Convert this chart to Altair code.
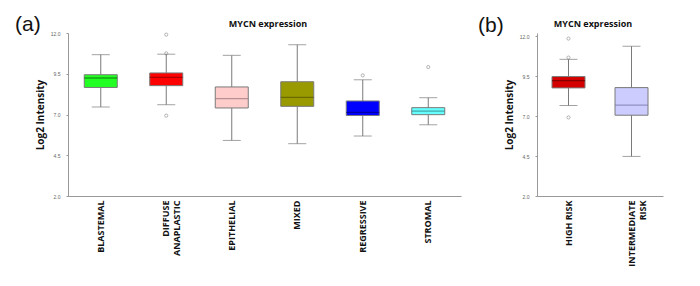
import altair as alt
import pandas as pd

# Panel (a): histology subtypes
cats_a = ["BLASTEMAL", "DIFFUSE|ANAPLASTIC", "EPITHELIAL", "MIXED", "REGRESSIVE", "STROMAL"]
low_a = [7.46, 7.60, 5.41, 5.21, 5.68, 6.37]
q1_a = [8.66, 8.77, 7.40, 7.50, 6.94, 6.99]
med_a = [9.24, 9.28, 7.97, 8.05, 7.13, 7.21]
q3_a = [9.44, 9.55, 8.69, 9.01, 7.83, 7.42]
high_a = [10.67, 10.70, 10.63, 11.28, 9.13, 8.03]
out_cat_a = ["DIFFUSE|ANAPLASTIC", "DIFFUSE|ANAPLASTIC", "DIFFUSE|ANAPLASTIC", "REGRESSIVE", "STROMAL"]
out_val_a = [11.90, 10.75, 6.93, 9.40, 9.91]
fill_a = ["#22ff22", "#ff0000", "#ffcccc", "#999900", "#0000ff", "#66ffff"]
medc_a = ["#117711", "#880000", "#997777", "#555500", "#000077", "#338888"]

# Panel (b): risk groups
cats_b = ["HIGH RISK", "INTERMEDIATE|RISK"]
low_b = [7.67, 4.48]
q1_b = [8.77, 7.06]
med_b = [9.23, 7.69]
q3_b = [9.48, 8.79]
high_b = [10.56, 11.38]
out_cat_b = ["HIGH RISK", "HIGH RISK", "HIGH RISK"]
out_val_b = [11.86, 10.67, 6.92]
fill_b = ["#d40000", "#ccccff"]
medc_b = ["#660000", "#7777aa"]

panel_title = "MYCN expression"
yticks = [2.0, 4.5, 7.0, 9.5, 12.0]
FONT = "Open Sans"
GRAY = "#7a7a7a"


def panel(cats, low, q1, med, q3, high, ocat, oval, fills, medcs, tag, w, h, boxw, ytop, tx):
    df = pd.DataFrame({"cat": cats, "low": low, "q1": q1, "med": med, "q3": q3, "high": high})
    dfo = pd.DataFrame({"cat": ocat, "val": oval})
    xenc = alt.X("cat:N", sort=cats, title=None,
                 scale=alt.Scale(type="band", domain=cats, paddingInner=0, paddingOuter=0),
                 axis=alt.Axis(labelAngle=-90, labelExpr="split(datum.label, '|')",
                               labelFont=FONT, labelFontWeight="bold", labelFontSize=9,
                               labelColor="#111", labelPadding=4, ticks=False,
                               domainColor="#999", labelLineHeight=11))
    yscale = alt.Scale(domain=[2, ytop], nice=False, zero=False)
    yaxis = alt.Axis(values=yticks, format=".1f", labelFontSize=5, labelColor="#666",
                     tickSize=2, tickColor="#999", domainColor="#999", grid=False,
                     title="Log2 Intensity", titleFont=FONT, titleFontSize=10,
                     titleFontWeight="bold", titleColor="#111", titlePadding=5, labelPadding=6)
    base = alt.Chart(df)
    whisk = base.mark_rule(color=GRAY, strokeWidth=1).encode(
        x=xenc, y=alt.Y("low:Q", scale=yscale, axis=yaxis), y2="high:Q")
    caps_lo = base.mark_tick(color=GRAY, size=18, thickness=1).encode(x=xenc, y=alt.Y("low:Q", scale=yscale))
    caps_hi = base.mark_tick(color=GRAY, size=18, thickness=1).encode(x=xenc, y=alt.Y("high:Q", scale=yscale))
    box = base.mark_bar(width=boxw, stroke=GRAY, strokeWidth=1).encode(
        x=xenc, y=alt.Y("q1:Q", scale=yscale), y2="q3:Q",
        fill=alt.Fill("cat:N", scale=alt.Scale(domain=cats, range=fills), legend=None))
    medt = base.mark_tick(size=boxw, thickness=1.3).encode(
        x=xenc, y=alt.Y("med:Q", scale=yscale),
        color=alt.Color("cat:N", scale=alt.Scale(domain=cats, range=medcs), legend=None))
    outs = alt.Chart(dfo).mark_point(shape="circle", size=10, color=GRAY, filled=False, strokeWidth=0.8).encode(
        x=xenc, y=alt.Y("val:Q", scale=yscale))
    lab = alt.Chart(pd.DataFrame({"t": [tag["text"]]})).mark_text(
        font="Liberation Sans", fontSize=21, align="left", baseline="middle", color="#111").encode(
        text="t:N", x=alt.value(tag["x"]), y=alt.value(tag["y"]))
    ttl = alt.Chart(pd.DataFrame({"t": [panel_title]})).mark_text(
        font=FONT, fontSize=9, fontWeight="bold", align="center", baseline="alphabetic", color="#111").encode(
        text="t:N", x=alt.value(tx), y=alt.value(-6))
    return alt.layer(whisk, caps_lo, caps_hi, box, medt, outs, lab, ttl).resolve_scale(
        color="independent", fill="independent").properties(width=w, height=h)


pa = panel(cats_a, low_a, q1_a, med_a, q3_a, high_a, out_cat_a, out_val_a, fill_a, medc_a,
           {"text": "(a)", "x": -53, "y": -8}, 393, 163, 33, 12.0, 200)
pb = panel(cats_b, low_b, q1_b, med_b, q3_b, high_b, out_cat_b, out_val_b, fill_b, medc_b,
           {"text": "(b)", "x": -59, "y": -7}, 126, 163, 33, 12.21, 56)

chart = alt.hconcat(pa, pb, spacing=17).properties(
    padding={"left": 7, "top": 6, "right": 5, "bottom": 5}
).configure_view(stroke=None)

chart.save("out.html", embed_options={"renderer": "svg", "actions": False})
